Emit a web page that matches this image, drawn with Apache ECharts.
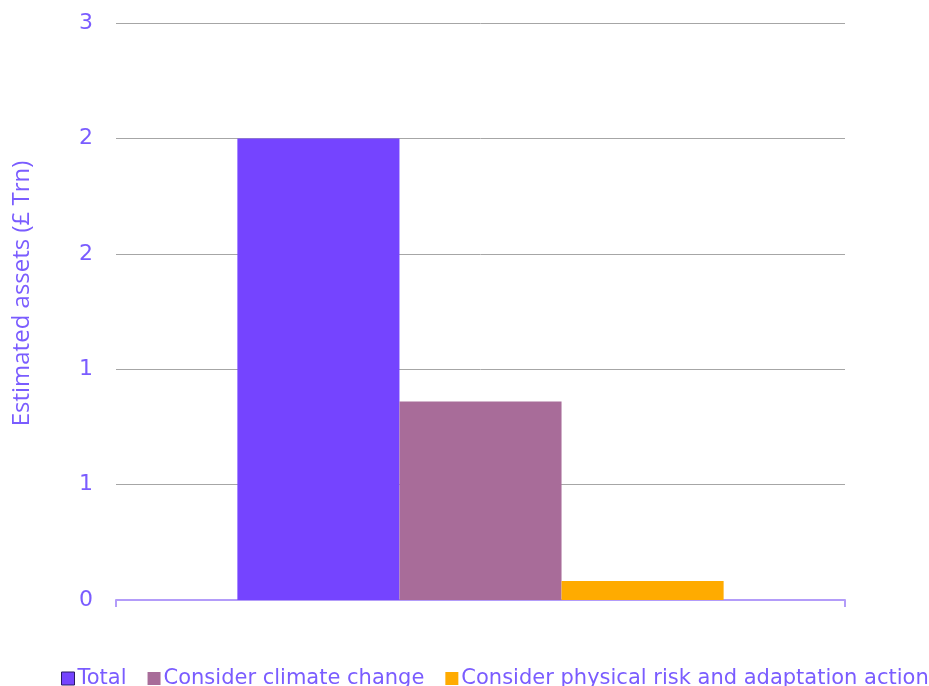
<!DOCTYPE html>
<html>
<head>
<meta charset="utf-8">
<script src="https://cdn.jsdelivr.net/npm/echarts@6/dist/echarts.min.js"></script>
<style>
  html, body { margin: 0; padding: 0; background: #fff; }
  #chart { width: 929px; height: 686px; }
</style>
</head>
<body>
<div id="chart"></div>
<script>
// one category, three series side by side
const categories = [""];
const seriesNames = ["Total", "Consider climate change", "Consider physical risk and adaptation action"];
const totalValues = [2.0];
const climateValues = [0.86];
const physicalValues = [0.082];
const colors = ["#7544ff", "#a86c99", "#ffab00"];

var chartDom = document.getElementById("chart");
var myChart = echarts.init(chartDom);
const textColor = "#7a5cff";

let option = {
  animation: false,
  grid: { left: 116, right: 84, top: 23, bottom: 86 },
  legend: {
    bottom: -3,
    left: 61,
    width: 1000,
    padding: 0,
    itemWidth: 13,
    itemHeight: 13,
    itemGap: 21,
    icon: "rect",
    textStyle: { color: textColor, fontSize: 21, fontFamily: "DejaVu Sans", padding: [0, 0, 0, -2] },
    data: [
      { name: seriesNames[0], itemStyle: { borderColor: "#2a1a66", borderWidth: 1 } },
      { name: seriesNames[1] },
      { name: seriesNames[2] },
    ],
  },
  xAxis: {
    type: "category",
    data: categories,
    axisLine: { lineStyle: { color: "#b39cf9", width: 2 } },
    axisTick: { show: true, length: 7, lineStyle: { color: "#b39cf9", width: 2 } },
    axisLabel: { show: false },
  },
  yAxis: {
    type: "value",
    min: 0,
    max: 2.5,
    interval: 0.5,
    name: "Estimated assets (£ Trn)",
    nameLocation: "middle",
    nameGap: 82,
    nameTextStyle: { color: textColor, fontSize: 24, fontFamily: "Open Sans", padding: [0, 0, 0, 36] },
    axisLine: { show: false },
    axisTick: { show: false },
    axisLabel: {
      color: textColor,
      fontSize: 22,
      fontFamily: "DejaVu Sans",
      margin: 23,
      formatter: function (v) { return String(Math.round(v)); },
    },
    splitLine: { lineStyle: { color: "#a6a6a6", width: 1 } },
  },
  series: [
    { name: seriesNames[0], type: "bar", data: totalValues, itemStyle: { color: colors[0] }, barGap: "0%", barCategoryGap: "33.3%" },
    { name: seriesNames[1], type: "bar", data: climateValues, itemStyle: { color: colors[1] } },
    { name: seriesNames[2], type: "bar", data: physicalValues, itemStyle: { color: colors[2] } },
  ],
};
option && myChart.setOption(option);
</script>
</body>
</html>
